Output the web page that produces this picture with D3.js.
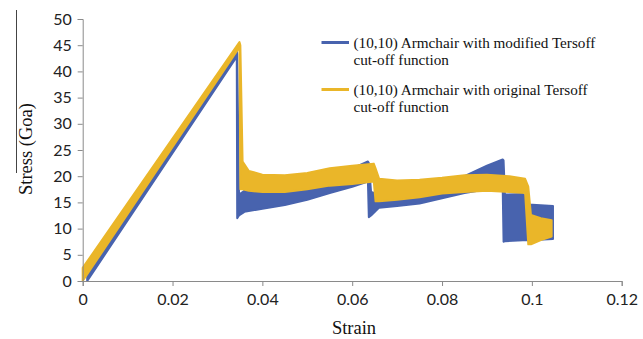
<!DOCTYPE html>
<html>
<head>
<meta charset="utf-8">
<script src="https://cdn.jsdelivr.net/npm/d3@7"></script>
<style>
  body { margin: 0; background: #fff; }
  .tick text { font-family: Lato, "Open Sans", sans-serif; font-size: 16px; fill: #222; }
  .axis path, .axis line { stroke: #8a8a8a; }
  .lbl { font-family: "Liberation Serif", "Times New Roman", serif; fill: #111; }
</style>
</head>
<body>
<svg id="chart" width="643" height="339"></svg>
<script>
// band envelopes: strain, upper stress, lower stress
var modStrain = [0.001, 0.0343, 0.0344, 0.0348, 0.036, 0.040, 0.045, 0.050, 0.055, 0.060, 0.0635, 0.0637, 0.0642,
  0.066, 0.070, 0.075, 0.080, 0.085, 0.090, 0.0935, 0.0937, 0.0940, 0.098, 0.0988, 0.0992, 0.1047];
var modUpper = [0.9, 43.8, 43.3, 16.5, 17.2, 17.0, 17.5, 18.3, 20.0, 21.5, 22.8, 22.5, 17.0,
  16.5, 16.3, 16.8, 17.8, 20.0, 22.0, 23.2, 23.0, 16.5, 16.6, 16.0, 14.6, 14.3];
var modLower = [0, 42.8, 12.0, 12.5, 13.2, 13.8, 14.5, 15.5, 16.8, 18.0, 19.0, 12.2, 12.5,
  14.0, 14.3, 14.8, 15.8, 16.8, 17.5, 18.0, 7.5, 7.6, 7.8, 7.8, 7.8, 8.0];

var origStrain = [0, 0.0349, 0.0351, 0.0356, 0.037, 0.040, 0.045, 0.050, 0.055, 0.060, 0.0648, 0.0652, 0.066,
  0.070, 0.075, 0.080, 0.085, 0.090, 0.095, 0.0985, 0.0992, 0.0998, 0.102, 0.1044];
var origUpper = [2.5, 45.6, 45.0, 22.8, 21.0, 20.3, 20.2, 20.6, 21.5, 22.0, 22.4, 21.5, 19.5,
  19.2, 19.3, 19.7, 20.2, 20.3, 20.0, 19.5, 18.0, 12.6, 12.0, 11.6];
var origLower = [0, 44.6, 17.5, 17.5, 17.2, 17.0, 17.0, 17.5, 18.2, 18.5, 19.0, 15.2, 15.2,
  15.5, 16.0, 16.7, 17.0, 17.2, 17.0, 16.8, 7.0, 7.0, 7.8, 8.5];

var xTicks = [0, 0.02, 0.04, 0.06, 0.08, 0.1, 0.12];
var yTicks = [0, 5, 10, 15, 20, 25, 30, 35, 40, 45, 50];

var series = [
  { label: ['(10,10) Armchair with modified Tersoff', 'cut-off function'], color: '#4863ae',
    strain: modStrain, upper: modUpper, lower: modLower },
  { label: ['(10,10) Armchair with original Tersoff', 'cut-off function'], color: '#eab629',
    strain: origStrain, upper: origUpper, lower: origLower }
];

(function() {
  var svg = d3.select('#chart');
  var padLeft = 82.7, padTop = 19, plotW = 539, plotH = 262;

  var x = d3.scaleLinear().domain([0, 0.12]).range([padLeft, padLeft + plotW]);
  var y = d3.scaleLinear().domain([0, 50]).range([padTop + plotH, padTop]);

  // curves, drawn as noisy bands
  series.forEach(function(s) {
    var pts = s.strain.map(function(d, i) { return { x: d, hi: s.upper[i], lo: s.lower[i] }; });
    var area = d3.area()
      .x(function(d) { return x(d.x); })
      .y0(function(d) { return y(d.lo); })
      .y1(function(d) { return y(d.hi); });
    svg.append('path')
      .attr('d', area(pts))
      .attr('fill', s.color)
      .attr('stroke', s.color)
      .attr('stroke-width', 2)
      .attr('stroke-linejoin', 'round');
  });

  // axes
  svg.append('g')
    .attr('class', 'axis')
    .attr('transform', 'translate(0,' + (padTop + plotH) + ')')
    .call(d3.axisBottom(x).tickValues(xTicks).tickSizeOuter(0).tickSize(5).tickPadding(8)
      .tickFormat(function(d) { return d === 0 ? '0' : String(+d.toFixed(2)); }));

  svg.append('g')
    .attr('class', 'axis')
    .attr('transform', 'translate(' + padLeft + ',0)')
    .call(d3.axisLeft(y).tickValues(yTicks).tickSizeOuter(0).tickSize(5).tickPadding(6));

  // axis titles
  svg.append('text')
    .attr('class', 'lbl')
    .attr('transform', 'translate(32,149) rotate(-90)')
    .attr('text-anchor', 'middle')
    .style('font-size', '18.5px')
    .text('Stress (Goa)');

  svg.append('line')
    .attr('x1', 16.5).attr('x2', 16.5).attr('y1', 10).attr('y2', 173)
    .attr('stroke', '#444').attr('stroke-width', 1);

  svg.append('text')
    .attr('class', 'lbl')
    .attr('x', 354).attr('y', 334)
    .attr('text-anchor', 'middle')
    .style('font-size', '18.5px')
    .text('Strain');

  // legend
  var legend = svg.append('g');
  series.forEach(function(s, i) {
    var ly = 42.5 + i * 47;
    legend.append('line')
      .attr('x1', 321.5).attr('x2', 349).attr('y1', ly).attr('y2', ly)
      .attr('stroke', s.color).attr('stroke-width', 3);
    s.label.forEach(function(t, j) {
      legend.append('text')
        .attr('class', 'lbl')
        .attr('x', 353.5).attr('y', ly + j * 17.5)
        .attr('dy', '0.35em')
        .style('font-size', '15.2px')
        .text(t);
    });
  });
})();
</script>
</body>
</html>
